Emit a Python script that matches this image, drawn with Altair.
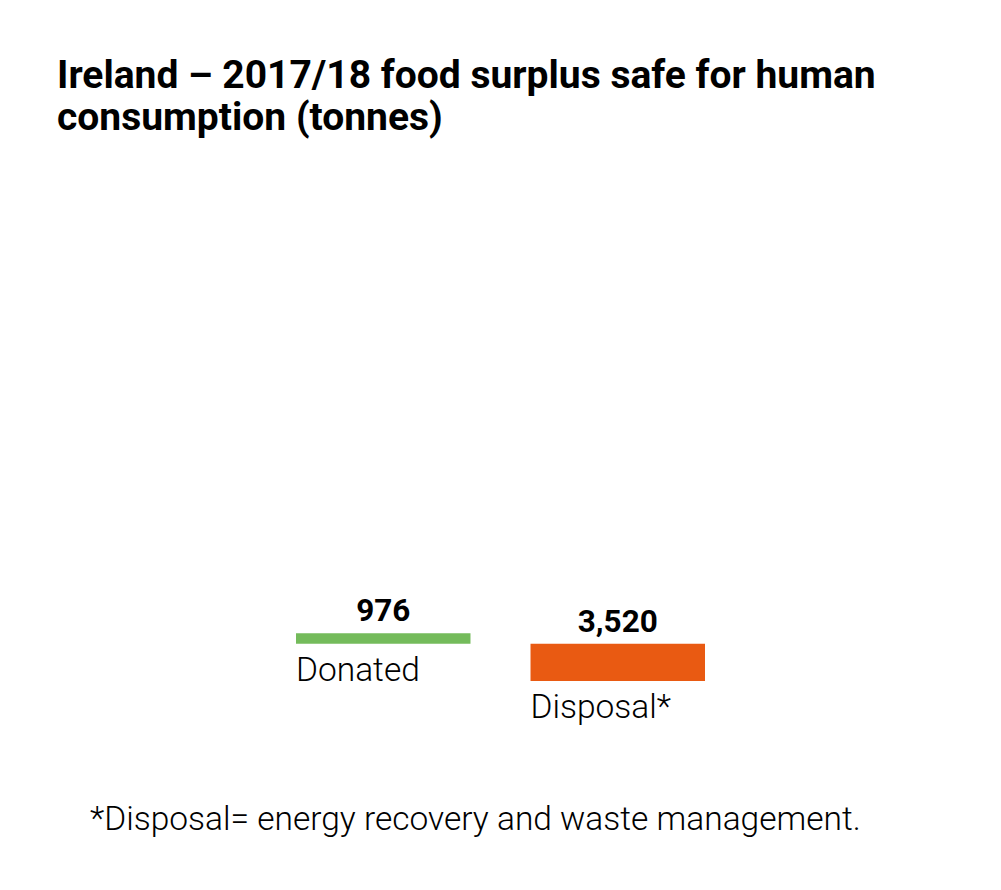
import altair as alt
import pandas as pd

categories = ["Donated", "Disposal*"]
values = [976, 3520]
value_labels = ["976", "3,520"]
colors = ["#74bb5b", "#e95a12"]

title_lines = ["Ireland – 2017/18 food surplus safe for human", "consumption (tonnes)"]
footnote = "*Disposal= energy recovery and waste management."

starts = [0]
for v in values[:-1]:
    starts.append(starts[-1] + v)
ends = [s + v for s, v in zip(starts, values)]

df = pd.DataFrame({
    "category": categories,
    "value": values,
    "label": value_labels,
    "start": starts,
    "end": ends,
    "color": colors,
})

total = ends[-1]
xscale = alt.Scale(domain=categories, range=[288, 697], paddingInner=0.256, paddingOuter=0)
yscale = alt.Scale(domain=[0, total], range=[625.3, 673])

base = alt.Chart(df)

bars = base.mark_bar().encode(
    x=alt.X("category:N", scale=xscale, axis=None, sort=categories),
    y=alt.Y("start:Q", scale=yscale, axis=None),
    y2="end:Q",
    color=alt.Color("color:N", scale=None),
)

vlabels = base.mark_text(
    font="Roboto", fontWeight="bold", fontSize=31.5, baseline="alphabetic", align="center", dy=-12, color="#000000"
).encode(
    x=alt.X("category:N", scale=xscale, axis=None, sort=categories),
    y=alt.Y("start:Q", scale=yscale, axis=None),
    text="label:N",
)

clabels = base.mark_text(
    font="Roboto", fontWeight=300, fontSize=33.5, baseline="alphabetic", align="left", dy=37, color="#000000"
).encode(
    x=alt.X("category:N", scale=xscale, axis=None, sort=categories, bandPosition=0),
    y=alt.Y("end:Q", scale=yscale, axis=None),
    text="category:N",
)

title_df = pd.DataFrame({"t": [title_lines]})
title = alt.Chart(title_df).mark_text(
    font="Roboto", fontWeight="bold", fontSize=39, align="left", baseline="alphabetic", lineHeight=42, color="#000000"
).encode(x=alt.value(49), y=alt.value(80), text="t")

foot_df = pd.DataFrame({"t": [footnote]})
foot = alt.Chart(foot_df).mark_text(
    font="Roboto", fontWeight=300, fontSize=33.5, align="left", baseline="alphabetic", color="#000000"
).encode(x=alt.value(82), y=alt.value(822), text="t:N")

chart = alt.layer(bars, vlabels, clabels, title, foot).properties(
    width=985, height=874, autosize=alt.AutoSizeParams(type="none"), padding=0
).configure_view(stroke=None)

chart.save("out.html", embed_options={"renderer": "svg", "actions": False})
